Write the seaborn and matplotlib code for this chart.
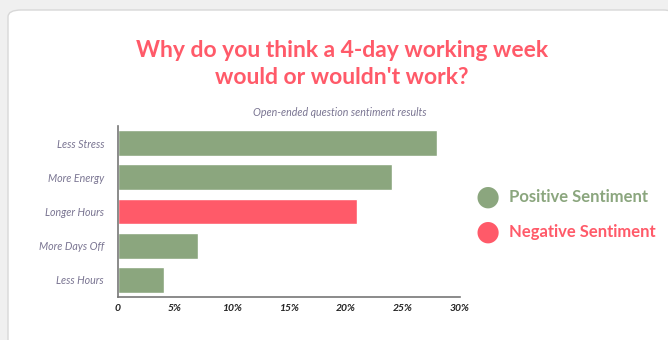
import matplotlib
matplotlib.use("Agg")
import matplotlib.pyplot as plt
import seaborn as sns
import pandas as pd
from matplotlib.patches import FancyBboxPatch

categories = ["Less Stress", "More Energy", "Longer Hours", "More Days Off", "Less Hours"]
values = [28, 24, 21, 7, 4]
sentiment = ["Positive", "Positive", "Negative", "Positive", "Positive"]
xticks = [0, 5, 10, 15, 20, 25, 30]
xtick_labels = ["0", "5%", "10%", "15%", "20%", "25%", "30%"]

GREEN = "#8ba67e"
RED = "#ff5a69"
LABEL = "#7a7592"

sns.set_theme(style="white")
plt.rcParams["font.family"] = ["Lato", "DejaVu Sans"]

df = pd.DataFrame({"cat": categories, "val": values, "sent": sentiment})

fig = plt.figure(figsize=(6.68, 3.40), dpi=100)
fig.patch.set_facecolor("#f0f0f0")
card = FancyBboxPatch((8 / 668, -0.1), 1.0, 1.1 - 10 / 340,
                      boxstyle="round,pad=0,rounding_size=0.02",
                      transform=fig.transFigure, facecolor="white",
                      edgecolor="#d8d8d8", linewidth=1.0, zorder=-10)
fig.patches.append(card)

ax = fig.add_axes([118 / 668, 1 - 297 / 340, (460 - 118) / 668, (297 - 126) / 340])
ax.set_zorder(5)
ax.set_facecolor("none")
sns.barplot(data=df, y="cat", x="val", hue="sent",
            palette={"Positive": GREEN, "Negative": RED}, saturation=1,
            dodge=False, width=0.75, legend=False, ax=ax, orient="h")
ax.set_xlim(0, 30)
ax.set_xticks(xticks)
ax.set_xticklabels(xtick_labels, fontsize=7.5, fontweight="bold", fontstyle="italic", color="#222222")
ax.set_yticklabels(categories, fontsize=7.7, fontstyle="italic", color=LABEL)
ax.set_xlabel("")
ax.set_ylabel("")
for s in ["top", "right"]:
    ax.spines[s].set_visible(False)
for s in ["left", "bottom"]:
    ax.spines[s].set_color("#777777")
    ax.spines[s].set_linewidth(1.2)
ax.tick_params(axis="x", length=0, pad=5)
ax.tick_params(axis="y", length=0, pad=10)

fig.text(342 / 668, 1 - 64 / 340, "Why do you think a 4-day working week\nwould or wouldn't work?",
         ha="center", va="center", fontsize=16.5, fontweight="bold", color=RED,
         linespacing=1.4)
fig.text(340 / 668, 1 - 113 / 340, "Open-ended question sentiment results",
         ha="center", va="center", fontsize=7.7, fontstyle="italic", color=LABEL)

# legend
for y, txt, col in [(197, "Positive Sentiment", GREEN), (232, "Negative Sentiment", RED)]:
    fig.text(488 / 668, 1 - y / 340, "\u25CF", ha="center", va="center",
             fontsize=20, color=col, family="DejaVu Sans")
    fig.text(509 / 668, 1 - y / 340, txt, ha="left", va="center",
             fontsize=12, fontweight="bold", color=col)

fig.savefig("out.png", dpi=100, facecolor=fig.get_facecolor())
